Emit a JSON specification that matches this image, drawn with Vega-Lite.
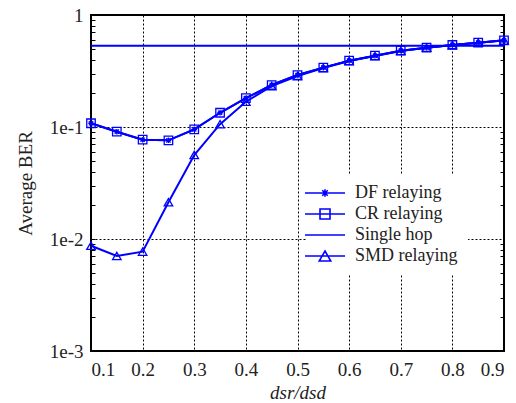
{
  "$schema": "https://vega.github.io/schema/vega-lite/v6.json",
  "width": 413,
  "height": 336,
  "autosize": {"type": "none"},
  "padding": {"left": 91, "top": 15, "right": 12, "bottom": 52},
  "background": "white",
  "config": {
    "view": {"stroke": "black", "strokeWidth": 2},
    "font": "Liberation Serif",
    "axis": {"labelFont": "Liberation Serif", "titleFont": "Liberation Serif", "labelColor": "#222", "titleColor": "#222", "titleFontWeight": "normal"},
    "legend": {"labelFont": "Liberation Serif", "titleFont": "Liberation Serif"}
  },
  "data": {"values": [
    {"series": "DF relaying", "x": 0.10, "ber": 0.108},
    {"series": "DF relaying", "x": 0.15, "ber": 0.0908},
    {"series": "DF relaying", "x": 0.20, "ber": 0.077},
    {"series": "DF relaying", "x": 0.25, "ber": 0.076},
    {"series": "DF relaying", "x": 0.30, "ber": 0.0953},
    {"series": "DF relaying", "x": 0.35, "ber": 0.134},
    {"series": "DF relaying", "x": 0.40, "ber": 0.181},
    {"series": "DF relaying", "x": 0.45, "ber": 0.237},
    {"series": "DF relaying", "x": 0.50, "ber": 0.291},
    {"series": "DF relaying", "x": 0.55, "ber": 0.339},
    {"series": "DF relaying", "x": 0.60, "ber": 0.391},
    {"series": "DF relaying", "x": 0.65, "ber": 0.433},
    {"series": "DF relaying", "x": 0.70, "ber": 0.48},
    {"series": "DF relaying", "x": 0.75, "ber": 0.511},
    {"series": "DF relaying", "x": 0.80, "ber": 0.54},
    {"series": "DF relaying", "x": 0.85, "ber": 0.566},
    {"series": "DF relaying", "x": 0.90, "ber": 0.594},
    {"series": "CR relaying", "x": 0.10, "ber": 0.108},
    {"series": "CR relaying", "x": 0.15, "ber": 0.0908},
    {"series": "CR relaying", "x": 0.20, "ber": 0.077},
    {"series": "CR relaying", "x": 0.25, "ber": 0.076},
    {"series": "CR relaying", "x": 0.30, "ber": 0.0953},
    {"series": "CR relaying", "x": 0.35, "ber": 0.134},
    {"series": "CR relaying", "x": 0.40, "ber": 0.181},
    {"series": "CR relaying", "x": 0.45, "ber": 0.237},
    {"series": "CR relaying", "x": 0.50, "ber": 0.291},
    {"series": "CR relaying", "x": 0.55, "ber": 0.339},
    {"series": "CR relaying", "x": 0.60, "ber": 0.391},
    {"series": "CR relaying", "x": 0.65, "ber": 0.433},
    {"series": "CR relaying", "x": 0.70, "ber": 0.48},
    {"series": "CR relaying", "x": 0.75, "ber": 0.511},
    {"series": "CR relaying", "x": 0.80, "ber": 0.54},
    {"series": "CR relaying", "x": 0.85, "ber": 0.566},
    {"series": "CR relaying", "x": 0.90, "ber": 0.594},
    {"series": "Single hop", "x": 0.10, "ber": 0.532},
    {"series": "Single hop", "x": 0.90, "ber": 0.532},
    {"series": "SMD relaying", "x": 0.10, "ber": 0.0087},
    {"series": "SMD relaying", "x": 0.15, "ber": 0.00705},
    {"series": "SMD relaying", "x": 0.20, "ber": 0.0077},
    {"series": "SMD relaying", "x": 0.25, "ber": 0.0213},
    {"series": "SMD relaying", "x": 0.30, "ber": 0.0562},
    {"series": "SMD relaying", "x": 0.35, "ber": 0.106},
    {"series": "SMD relaying", "x": 0.40, "ber": 0.168},
    {"series": "SMD relaying", "x": 0.45, "ber": 0.232},
    {"series": "SMD relaying", "x": 0.50, "ber": 0.285},
    {"series": "SMD relaying", "x": 0.55, "ber": 0.336},
    {"series": "SMD relaying", "x": 0.60, "ber": 0.388},
    {"series": "SMD relaying", "x": 0.65, "ber": 0.431},
    {"series": "SMD relaying", "x": 0.70, "ber": 0.478},
    {"series": "SMD relaying", "x": 0.75, "ber": 0.51},
    {"series": "SMD relaying", "x": 0.80, "ber": 0.539},
    {"series": "SMD relaying", "x": 0.85, "ber": 0.565},
    {"series": "SMD relaying", "x": 0.90, "ber": 0.593}
  ]},
  "encoding": {
    "x": {
      "field": "x", "type": "quantitative",
      "scale": {"domain": [0.1, 0.9], "nice": false, "zero": false},
      "axis": {
        "values": [0.1, 0.2, 0.3, 0.4, 0.5, 0.6, 0.7, 0.8, 0.9],
        "format": ".1f",
        "labelFlush": true,
        "grid": true, "gridColor": "black", "gridDash": [2, 2], "gridWidth": 1, "gridOpacity": 1,
        "ticks": false, "domain": false,
        "labelFont": "Liberation Serif",
        "labelFontSize": 19, "labelPadding": 9,
        "title": "dsr/dsd", "titleFont": "Liberation Serif", "titleFontSize": 19, "titleFontStyle": "italic", "titlePadding": 4
      }
    }
  },
  "layer": [
    {
      "mark": {"type": "line", "strokeWidth": 2},
      "encoding": {
        "y": {
          "field": "ber", "type": "quantitative",
          "scale": {"type": "log", "domain": [0.001, 1], "nice": false},
          "axis": {
            "orient": "left",
            "values": [0.001, 0.002, 0.003, 0.004, 0.005, 0.006, 0.007, 0.008, 0.009, 0.01, 0.02, 0.03, 0.04, 0.05, 0.06, 0.07, 0.08, 0.09, 0.1, 0.2, 0.3, 0.4, 0.5, 0.6, 0.7, 0.8, 0.9, 1],
            "labelExpr": "abs(log(datum.value)/LN10 - round(log(datum.value)/LN10)) < 1e-6 ? (datum.value > 0.5 ? '1' : '1e-' + round(-log(datum.value)/LN10)) : ''",
            "grid": true, "gridColor": "black", "gridDash": [2, 2], "gridWidth": 1,
            "gridOpacity": {"condition": {"test": "abs(log(datum.value)/LN10 - round(log(datum.value)/LN10)) < 1e-6", "value": 1}, "value": 0},
            "ticks": true, "tickSize": -4, "tickColor": "black", "tickWidth": 1,
            "domain": false,
            "labelFont": "Liberation Serif",
            "labelFontSize": 19, "labelPadding": 12,
            "title": "Average BER", "titleFont": "Liberation Serif", "titleFontSize": 19, "titlePadding": 14
          }
        },
        "color": {
          "field": "series", "type": "nominal",
          "scale": {"domain": ["DF relaying", "CR relaying", "Single hop", "SMD relaying"], "range": ["#0000ff", "#0000ff", "#0000ff", "#0000ff"]},
          "legend": {
            "title": null,
            "orient": "none",
            "legendX": 215,
            "legendY": 159,
            "padding": 10,
            "fillColor": "white",
            "strokeColor": null,
            "rowPadding": 3,
            "symbolSize": 100,
            "symbolStrokeWidth": 1.6,
            "symbolStrokeColor": "#0000ff",
            "labelFont": "Liberation Serif",
            "labelFontSize": 18,
            "labelColor": "#222",
            "labelOffset": 21,
            "labelLimit": 300,
            "encode": {
              "labels": {
                "update": {"font": {"value": "Liberation Serif"}}
              },
              "symbols": {
                "update": {
                  "shape": {"signal": "datum.value === 'DF relaying' ? 'M-4,0H4M-0.55,-0.55L0.55,0.55M-0.55,0.55L0.55,-0.55M0,-0.75V0.75' : datum.value === 'CR relaying' ? 'M-4,0H4M-1,-1H1V1H-1Z' : datum.value === 'SMD relaying' ? 'M-4,0H4M0,-1L1.15,1H-1.15Z' : 'M-4,0H4'"},
                  "fill": {"value": "transparent"},
                  "stroke": {"value": "#0000ff"}
                }
              }
            }
          }
        }
      }
    },
    {
      "transform": [{"filter": "datum.series !== 'Single hop'"}],
      "mark": {"type": "point", "filled": false, "stroke": "#0000ff", "strokeWidth": 1.3, "size": 72, "opacity": 1},
      "encoding": {
        "y": {
          "field": "ber", "type": "quantitative",
          "axis": {
            "orient": "right",
            "values": [0.002, 0.003, 0.004, 0.005, 0.006, 0.007, 0.008, 0.009, 0.02, 0.03, 0.04, 0.05, 0.06, 0.07, 0.08, 0.09, 0.2, 0.3, 0.4, 0.5, 0.6, 0.7, 0.8, 0.9],
            "labels": false, "grid": false, "domain": false,
            "ticks": true, "tickSize": -4, "tickColor": "black", "tickWidth": 1,
            "title": null
          }
        },
        "shape": {
          "field": "series", "type": "nominal",
          "scale": {"domain": ["DF relaying", "CR relaying", "SMD relaying"], "range": ["M-0.5,-0.5L0.5,0.5M-0.5,0.5L0.5,-0.5M0,-0.65V0.65M-0.65,0H0.65", "square", "triangle-up"]},
          "legend": null
        }
      }
    }
  ],
  "resolve": {"axis": {"y": "independent"}}
}
